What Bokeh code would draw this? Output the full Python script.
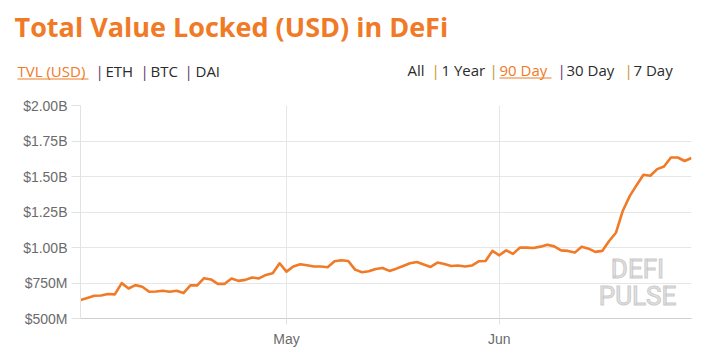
import pandas as pd
from bokeh.plotting import figure
from bokeh.models import (Range1d, FixedTicker, DatetimeTickFormatter, Label,
                          BoxAnnotation, ColumnDataSource)
from bokeh.embed import file_html
from bokeh.resources import INLINE

# ---- data (TVL in billions USD, daily from 2020-04-01) ----
tvl = [0.631, 0.645, 0.660, 0.662, 0.672, 0.670, 0.749, 0.711, 0.735, 0.724,
       0.688, 0.690, 0.695, 0.688, 0.695, 0.679, 0.733, 0.733, 0.784, 0.775,
       0.744, 0.744, 0.782, 0.765, 0.772, 0.789, 0.782, 0.807, 0.819, 0.889,
       0.830, 0.866, 0.882, 0.875, 0.866, 0.866, 0.861, 0.903, 0.910, 0.905,
       0.844, 0.826, 0.833, 0.849, 0.856, 0.835, 0.851, 0.870, 0.889, 0.898,
       0.880, 0.863, 0.894, 0.884, 0.870, 0.873, 0.866, 0.873, 0.903, 0.905,
       0.976, 0.945, 0.980, 0.955, 0.999, 0.999, 0.997, 1.006, 1.020, 1.008,
       0.980, 0.976, 0.964, 1.006, 0.992, 0.969, 0.976, 1.046, 1.104, 1.259,
       1.362, 1.439, 1.512, 1.505, 1.552, 1.571, 1.634, 1.634, 1.609, 1.630]
start_date = "2020-04-01"
dates = pd.date_range(start_date, periods=len(tvl), freq="D")

y_ticks = [0.5, 0.75, 1.0, 1.25, 1.5, 1.75, 2.0]
y_labels = ["$500M", "$750M", "$1.00B", "$1.25B", "$1.50B", "$1.75B", "$2.00B"]
x_tick_dates = ["2020-05-01", "2020-06-01"]

title_text = "Total Value Locked (USD) in DeFi"
left_menu = ["TVL (USD)", "|", "ETH", "|", "BTC", "|", "DAI"]
right_menu = ["All", "|", "1 Year", "|", "90 Day", "|", "30 Day", "|", "7 Day"]

ORANGE = "#F07A26"
TEXT = "#2b2b2b"
PURPLE = "#6a2c6e"
GOLD = "#c9952e"

W = 705
HEAD_H = 90

# ---- header figure (title + menus) ----
h = figure(width=W, height=HEAD_H, output_backend="svg", toolbar_location=None,
           x_range=Range1d(0, W), y_range=Range1d(0, HEAD_H),
           min_border=0, x_axis_location=None, y_axis_location=None)
h.outline_line_color = None
h.grid.grid_line_color = None

def lab(fig, x, y, txt, col, size, style="normal", font="Open Sans"):
    fig.add_layout(Label(x=x, y=y, x_units="canvas", y_units="canvas", text=txt,
                         text_font=font, text_font_style=style,
                         text_font_size=size, text_color=col,
                         text_baseline="alphabetic"))

lab(h, 14, 26, title_text, ORANGE, "27px", "bold")

left_x = [17, 95, 105, 140, 150, 184, 195]
left_c = [ORANGE, PURPLE, TEXT, PURPLE, TEXT, PURPLE, TEXT]
right_x = [407, 431, 441, 489, 499, 557, 566, 624, 633]
right_c = [TEXT, GOLD, TEXT, GOLD, ORANGE, PURPLE, TEXT, GOLD, TEXT]
for txt, x, c in zip(left_menu, left_x, left_c):
    lab(h, x, 70, txt, c, "15px")
for txt, x, c in zip(right_menu, right_x, right_c):
    lab(h, x, 69, txt, c, "15px")
for l, r, yy in [(17, 88, 78), (499, 551, 77)]:
    h.add_layout(BoxAnnotation(left=l, right=r, top=yy, bottom=yy + 1,
                               left_units="canvas", right_units="canvas",
                               top_units="canvas", bottom_units="canvas",
                               fill_color=ORANGE, fill_alpha=1.0,
                               line_color=None))

# ---- main chart ----
p = figure(width=W, height=358 - HEAD_H, output_backend="svg",
           toolbar_location=None, x_axis_type="datetime",
           x_range=Range1d(dates[0], dates[-1]),
           y_range=Range1d(0.5, 2.0),
           min_border_left=80, min_border_right=14, min_border_top=15,
           min_border_bottom=40)
p.outline_line_color = None

src = ColumnDataSource(dict(date=dates, tvl=tvl))
p.line("date", "tvl", source=src, line_color=ORANGE, line_width=2.6,
       line_join="round")

ya = p.yaxis[0]
ya.ticker = FixedTicker(ticks=y_ticks)
ya.major_label_overrides = {t: l for t, l in zip(y_ticks, y_labels)}
ya.axis_line_color = "#e2e2e2"
ya.major_tick_line_color = "#e2e2e2"
ya.major_tick_out = 9
ya.major_tick_in = 0
ya.minor_tick_line_color = None
ya.major_label_text_font = "Liberation Sans"
ya.major_label_text_font_size = "14px"
ya.major_label_text_color = "#6b6b6b"
ya.major_label_standoff = 4

xa = p.xaxis[0]
xt = [pd.Timestamp(d).value / 1e6 for d in x_tick_dates]
xa.ticker = FixedTicker(ticks=xt)
xa.formatter = DatetimeTickFormatter(days="%b", months="%b")
xa.axis_line_color = "#cfcfcf"
xa.major_tick_line_color = "#e2e2e2"
xa.major_tick_out = 6
xa.major_tick_in = 0
xa.minor_tick_line_color = None
xa.major_label_text_font = "Liberation Sans"
xa.major_label_text_font_size = "14px"
xa.major_label_text_color = "#6b6b6b"
xa.major_label_standoff = 6

p.ygrid.grid_line_color = "#e6e6e6"
p.xgrid.grid_line_color = "#e6e6e6"

# watermark
for txt, yy in [("DEFI", 268 - HEAD_H), ("PULSE", 295 - HEAD_H)]:
    p.add_layout(Label(x=637, y=yy, x_units="canvas", y_units="canvas", text=txt,
                       text_font="Roboto", text_font_style="normal",
                       text_font_size="26px", text_color="#e3e3e3",
                       text_outline_color="#cccccc", text_align="center",
                       text_baseline="alphabetic"))

open("out.html", "w").write(file_html([h, p], INLINE))
